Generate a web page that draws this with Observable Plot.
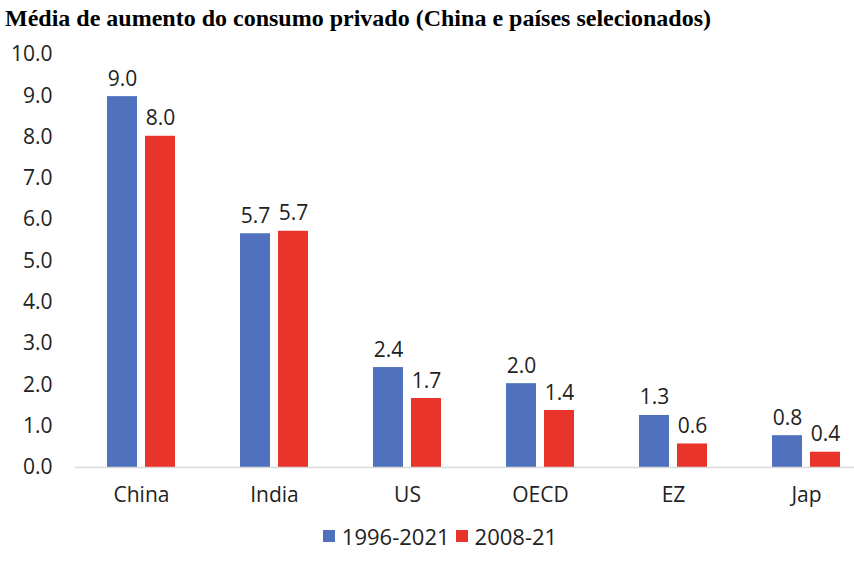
<!DOCTYPE html>
<html>
<head>
<meta charset="utf-8">
<script src="https://cdn.jsdelivr.net/npm/d3@7"></script>
<script src="https://cdn.jsdelivr.net/npm/@observablehq/plot@0.6"></script>
<style>
  body { margin: 0; background: #fff; font-family: "Open Sans", sans-serif; }
  #title { font-family: "Liberation Serif", serif; font-weight: bold; font-size: 24px; color: #000; padding: 5px 0 0 5px; height: 38px; box-sizing: border-box; white-space: nowrap; }
  #legend { display: flex; justify-content: center; align-items: center; font-size: 22px; color: #222; margin-top: -7px; padding-left: 26px; }
  #legend .sw { width: 12px; height: 12px; display: inline-block; margin-right: 7px; }
  #legend .item { display: flex; align-items: center; margin: 0 3px; }
</style>
</head>
<body>
<div id="title">Média de aumento do consumo privado (China e países selecionados)</div>
<div id="chart"></div>
<div id="legend"></div>
<script>
const categories = ["China", "India", "US", "OECD", "EZ", "Jap"];
const seriesNames = ["1996-2021", "2008-21"];
const values1996 = [8.98, 5.66, 2.42, 2.03, 1.26, 0.77];
const values2008 = [8.02, 5.72, 1.67, 1.38, 0.57, 0.37];
const yTicks = [0, 1, 2, 3, 4, 5, 6, 7, 8, 9, 10];
const colors = ["#4f71be", "#e8342a"];

const data = [];
categories.forEach((c, i) => {
  data.push({cat: c, series: seriesNames[0], v: values1996[i]});
  data.push({cat: c, series: seriesNames[1], v: values2008[i]});
});
const d1 = data.filter(d => d.series === seriesNames[0]);
const d2 = data.filter(d => d.series === seriesNames[1]);

const plot = Plot.plot({
  width: 854,
  height: 490,
  marginTop: 16,
  marginBottom: 61,
  marginLeft: 75,
  marginRight: 0,
  style: {fontFamily: "Open Sans, sans-serif", fontSize: "21px", color: "#222", background: "#fff"},
  x: {domain: categories, range: [75, 873], paddingInner: 0.7744, paddingOuter: 0.3872, label: null, tickSize: 0, tickPadding: 20},
  y: {domain: [0, 10], ticks: yTicks, tickFormat: d => d.toFixed(1), tickSize: 0, tickPadding: 23, label: null},
  marks: [
    Plot.barY(d1, {x: "cat", y: "v", fill: colors[0], dx: -19}),
    Plot.barY(d2, {x: "cat", y: "v", fill: colors[1], dx: 19}),
    Plot.ruleY([0], {stroke: "#d9d9d9", strokeWidth: 1.5}),
    Plot.text(d1, {x: "cat", y: "v", text: d => d.v.toFixed(1), dx: -19, dy: -11, lineAnchor: "bottom", fill: "#222", fontSize: 21}),
    Plot.text(d2, {x: "cat", y: "v", text: d => d.v.toFixed(1), dx: 19, dy: -11, lineAnchor: "bottom", fill: "#222", fontSize: 21})
  ]
});
document.getElementById("chart").appendChild(plot);

const legend = document.getElementById("legend");
seriesNames.forEach((s, i) => {
  const item = document.createElement("span");
  item.className = "item";
  const sw = document.createElement("span");
  sw.className = "sw";
  sw.style.background = colors[i];
  item.appendChild(sw);
  item.appendChild(document.createTextNode(s));
  legend.appendChild(item);
});
</script>
</body>
</html>
